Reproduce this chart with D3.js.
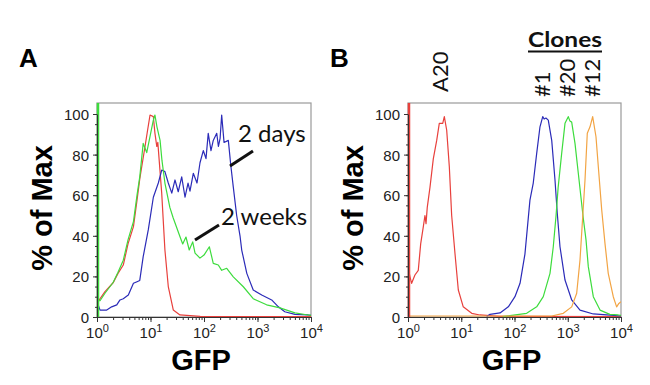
<!DOCTYPE html>
<html>
<head>
<meta charset="utf-8">
<script src="https://cdn.jsdelivr.net/npm/d3@7"></script>
<style>
  body { margin: 0; background: #fff; }
  svg { display: block; }
  .tick text { font-family: "Liberation Sans", Arial, sans-serif; }
</style>
</head>
<body>
<svg id="chart" width="650" height="385"></svg>
<script>
// axis ticks
const gfpTicks = [1, 10, 100, 1000, 10000];
const pctTicks = [0, 20, 40, 60, 80, 100];

// panel A curves: [GFP, % of max]
const redA = [[1.04,7.5],[1.41,12.5],[2.02,17],[2.47,21.5],[3.1,25.6],[3.8,36],[4.8,44.5],[5.6,57.6],[6.3,68],[7.9,84],[8.7,91],[9.8,99.5],[11.3,98.7],[12.1,90.6],[13.1,84],[13.7,86],[16.2,61],[18.6,33],[21.5,15],[26.7,3.4],[35.5,1],[85,0.3],[10000,0.2]];
const blueA = [[1.05,6],[1.14,3.4],[1.52,3.4],[1.88,5],[2.34,6],[2.69,8.4],[3.1,9],[3.85,10.8],[4.8,16.6],[5.6,17.4],[6.3,18],[7.3,29.7],[9.1,43],[11.3,59],[14,66],[16.2,72.4],[18.6,71.6],[21.5,66],[25,61],[28.7,67.5],[33,61.7],[38.3,69],[44.2,59],[50.3,66],[54.7,62],[63.1,70.8],[74,66],[84.2,76],[97,82],[109,78],[120,90.5],[135,82],[149,87],[173,90.5],[186,84],[200,88],[214,99.5],[237,86],[285,87],[316,75],[353,64],[408,50],[471,40],[507,33],[631,21.5],[832,13.3],[1200,10.8],[1841,8.4],[2455,5],[3236,2.6],[5012,1.3],[8790,1],[10000,0.8]];
const greenA = [[1,110],[1.04,8],[1.14,8],[1.41,11.7],[2.0,17],[2.47,22],[3.1,28],[3.8,38],[4.8,47],[5.6,60],[6.3,69],[7.3,85.5],[8.5,81],[9.8,89],[11.3,97],[12.1,99.5],[13.2,93.7],[15.1,87],[16.4,77],[18.6,66],[23,54],[26.4,49],[35.6,39.5],[40,36],[46,39.4],[53,33],[61.5,37],[68,31.5],[84,29],[100,30.5],[126,34.6],[149,26.4],[185,25.6],[214,23],[266,24],[353,19.8],[543,14.9],[832,9],[1480,6],[2630,4.5],[5012,2],[8710,1],[10000,0.8]];

// panel B curves
const redB = [[1,110],[1.05,22],[1.09,19.8],[1.17,16.6],[1.35,20.7],[1.56,23],[1.73,36],[1.94,44.5],[2.08,50],[2.18,46],[2.3,54],[2.59,64],[2.99,78],[3.46,87],[3.87,95.4],[4.49,95.4],[4.81,98.7],[5.33,92],[5.97,74],[6.61,50],[7.64,31],[8.81,13.3],[10.9,5],[15.7,1.8],[22.4,1],[53,0.3],[10000,0.2]];
const blueB = [[30,0.3],[34.7,1.3],[53.5,2],[76.5,5],[102,10],[127,16.6],[157,31],[195,57.6],[200,59],[225,66],[261,80.6],[301,93.7],[339,98.7],[360,97.5],[389,98],[431,97],[500,87],[576,67.5],[636,51],[715,34.6],[888,18.2],[1186,8.4],[1698,3.4],[3020,1.5],[5400,1],[10000,0.5]];
const greenB = [[60,0.2],[169,1.8],[261,5],[347,10],[464,21.5],[535,34.6],[603,50],[661,64],[769,80.6],[888,95.4],[1023,98.7],[1100,96.5],[1186,96],[1368,85.5],[1578,70.8],[1950,49],[2203,38],[2432,24.8],[3020,10],[4036,3.4],[6170,1.3],[8900,1],[10000,0.8]];
const orangeB = [[1,0.5],[500,0.5],[825,1.8],[1186,5],[1472,11.7],[1698,28],[1905,49],[2109,67.5],[2328,90.5],[2618,93.7],[2938,98.7],[3390,88.8],[3750,74],[4345,52.7],[5012,36],[5760,21.5],[7160,10],[8280,5],[9120,6.7],[10000,7.5]];

const colors = { red: "#e8403c", blue: "#2b2bb8", green: "#3ddc3d", orange: "#f2a444" };

const svg = d3.select("#chart");
svg.append("rect").attr("width", 650).attr("height", 385).attr("fill", "#fff");

function drawPanel(opts) {
    const x = d3.scaleLog().domain([1, 10000]).range([opts.left, opts.right]);
    const y = d3.scaleLinear().domain([0, 100]).range([317, 114]);
    const top = 103;
    const g = svg.append("g");

    const clipId = "clip" + opts.id;
    svg.append("clipPath").attr("id", clipId)
        .append("rect")
        .attr("x", opts.left).attr("y", top)
        .attr("width", opts.right - opts.left).attr("height", 317 - top);

    // frame
    g.append("rect")
        .attr("x", opts.left).attr("y", top)
        .attr("width", opts.right - opts.left).attr("height", 317 - top)
        .attr("fill", "none").attr("stroke", "#9a9a9a").attr("stroke-width", 1.2);

    const line = d3.line().x(d => x(d[0])).y(d => y(d[1]));
    opts.series.forEach(s => {
        g.append("path")
            .datum(s.data)
            .attr("clip-path", "url(#" + clipId + ")")
            .attr("d", line)
            .attr("fill", "none")
            .attr("stroke", s.color)
            .attr("stroke-width", 1.2)
            .attr("stroke-linejoin", "round");
    });
    // thick pile-up at left edge
    g.append("line")
        .attr("x1", x(1) + 1).attr("x2", x(1) + 1)
        .attr("y1", top).attr("y2", 317)
        .attr("stroke", opts.edgeColor).attr("stroke-width", 2.5);

    // y axis
    g.append("g")
        .attr("transform", "translate(" + opts.left + ",0)")
        .call(d3.axisLeft(y).tickValues(d3.range(0, 101, 5)).tickSize(2).tickSizeOuter(0).tickFormat(""))
        .call(a => a.select(".domain").remove())
        .selectAll("line").attr("stroke", "#333");
    const ya = g.append("g")
        .attr("transform", "translate(" + opts.left + ",0)")
        .call(d3.axisLeft(y).tickValues(pctTicks).tickSize(4).tickSizeOuter(0).tickPadding(4));
    ya.select(".domain").attr("stroke", "#333");
    ya.selectAll("line").attr("stroke", "#333");
    ya.selectAll("text").attr("font-size", 15).attr("fill", "#222").attr("dy", "0.36em");

    // x axis
    g.append("g")
        .attr("transform", "translate(0,317)")
        .call(d3.axisBottom(x).tickValues(x.ticks()).tickSize(3).tickSizeOuter(0).tickFormat(""))
        .call(a => a.select(".domain").attr("stroke", "#333"))
        .selectAll("line").attr("stroke", "#333");
    const xa = g.append("g")
        .attr("transform", "translate(0,317)")
        .call(d3.axisBottom(x).tickValues(gfpTicks).tickSize(5).tickSizeOuter(0).tickFormat(""));
    xa.select(".domain").remove();
    xa.selectAll("line").attr("stroke", "#333");
    xa.selectAll(".tick").append("text")
        .attr("y", 21)
        .attr("fill", "#222")
        .attr("font-size", 15)
        .attr("text-anchor", "middle")
        .each(function(d) {
            const t = d3.select(this);
            t.append("tspan").text("10");
            t.append("tspan").attr("dy", -6).attr("font-size", 11).text(Math.round(Math.log10(d)));
        });

    // axis titles
    svg.append("text")
        .attr("transform", "translate(" + opts.yTitleX + ",208) rotate(-90)")
        .attr("text-anchor", "middle")
        .attr("font-family", "Liberation Sans, Arial, sans-serif")
        .attr("font-weight", "bold").attr("font-size", 29)
        .text("% of Max");
    svg.append("text")
        .attr("x", (opts.left + opts.right) / 2 - 3).attr("y", 370)
        .attr("text-anchor", "middle")
        .attr("font-family", "Liberation Sans, Arial, sans-serif")
        .attr("font-weight", "bold").attr("font-size", 29)
        .text("GFP");
    svg.append("text")
        .attr("x", opts.labelX).attr("y", 67)
        .attr("font-family", "Liberation Sans, Arial, sans-serif")
        .attr("font-weight", "bold").attr("font-size", 26)
        .text(opts.id);
}

drawPanel({
    id: "A", left: 97, right: 311, yTitleX: 52, labelX: 19, edgeColor: colors.green,
    series: [
        { data: redA, color: colors.red },
        { data: blueA, color: colors.blue },
        { data: greenA, color: colors.green }
    ]
});
drawPanel({
    id: "B", left: 408, right: 621, yTitleX: 363, labelX: 330, edgeColor: colors.red,
    series: [
        { data: redB, color: colors.red },
        { data: blueB, color: colors.blue },
        { data: greenB, color: colors.green },
        { data: orangeB, color: colors.orange }
    ]
});

// annotations panel A
const annFont = "Lato, 'Open Sans', sans-serif";
svg.append("text").attr("x", 238).attr("y", 142)
    .attr("font-family", annFont).attr("font-size", 24).attr("fill", "#111")
    .text("2 days");
svg.append("line").attr("x1", 230).attr("y1", 166).attr("x2", 253).attr("y2", 151)
    .attr("stroke", "#111").attr("stroke-width", 3);
svg.append("text").attr("x", 221).attr("y", 225)
    .attr("font-family", annFont).attr("font-size", 24).attr("fill", "#111")
    .text("2 weeks");
svg.append("line").attr("x1", 195).attr("y1", 240).attr("x2", 219).attr("y2", 225)
    .attr("stroke", "#111").attr("stroke-width", 3);

// annotations panel B
const sampleLabels = [["A20", 448, 92], ["#1", 550, 97], ["#20", 575, 97], ["#12", 600, 97]];
sampleLabels.forEach(([txt, bx, by]) => {
    svg.append("text")
        .attr("transform", "translate(" + bx + "," + by + ") rotate(-90)")
        .attr("font-family", annFont).attr("font-size", 22).attr("fill", "#111")
        .text(txt);
});
svg.append("text").attr("x", 528).attr("y", 47)
    .attr("font-family", annFont).attr("font-weight", "bold").attr("font-size", 21).attr("fill", "#111")
    .attr("textLength", 74).attr("lengthAdjust", "spacingAndGlyphs")
    .text("Clones");
svg.append("line").attr("x1", 528).attr("x2", 602).attr("y1", 51.5).attr("y2", 51.5)
    .attr("stroke", "#111").attr("stroke-width", 1.8);
</script>
</body>
</html>
